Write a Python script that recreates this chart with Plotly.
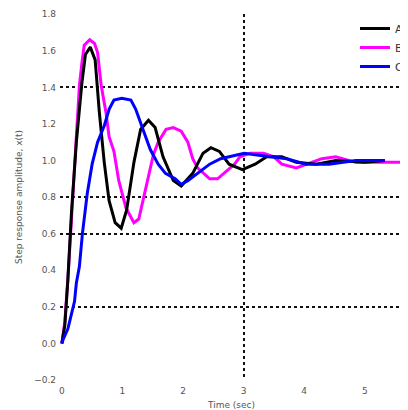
import plotly.graph_objects as go

# ---- data ----
names = ["A", "B", "C"]

t_black = [0, 0.05, 0.10, 0.16, 0.24, 0.33, 0.39, 0.47, 0.55, 0.62, 0.70, 0.78, 0.88, 0.98,
           1.07, 1.19, 1.30, 1.43, 1.54, 1.67, 1.84, 1.97, 2.16, 2.33, 2.46, 2.60, 2.76, 2.98,
           3.19, 3.38, 3.63, 3.87, 4.20, 4.52, 5.00, 5.33]
y_black = [0, 0.10, 0.35, 0.72, 1.10, 1.42, 1.58, 1.62, 1.55, 1.26, 0.99, 0.78, 0.66, 0.63,
           0.73, 0.99, 1.17, 1.22, 1.18, 1.02, 0.89, 0.86, 0.93, 1.04, 1.07, 1.05, 0.98, 0.95,
           0.98, 1.02, 1.02, 0.99, 0.98, 1.00, 0.99, 1.00]

t_magenta = [0, 0.05, 0.10, 0.16, 0.24, 0.29, 0.33, 0.37, 0.46, 0.54, 0.59, 0.65, 0.73, 0.78,
             0.86, 0.94, 1.06, 1.19, 1.27, 1.35, 1.43, 1.51, 1.59, 1.72, 1.84, 1.97, 2.08,
             2.16, 2.24, 2.44, 2.57, 2.68, 2.85, 2.94, 3.11, 3.33, 3.50, 3.63, 3.87, 4.29,
             4.52, 4.85, 5.70]
y_magenta = [0, 0.12, 0.35, 0.70, 1.10, 1.41, 1.53, 1.63, 1.66, 1.64, 1.59, 1.41, 1.26, 1.13,
             1.05, 0.89, 0.74, 0.66, 0.68, 0.80, 0.92, 1.03, 1.10, 1.17, 1.18, 1.16, 1.10,
             1.01, 0.96, 0.90, 0.90, 0.93, 0.98, 1.02, 1.04, 1.04, 1.02, 0.98, 0.96, 1.01,
             1.02, 0.99, 0.99]

t_blue = [0, 0.02, 0.10, 0.21, 0.24, 0.29, 0.34, 0.42, 0.50, 0.59, 0.70, 0.78, 0.86, 0.99,
          1.14, 1.22, 1.35, 1.46, 1.59, 1.71, 1.87, 1.97, 2.08, 2.24, 2.44, 2.62, 2.85, 3.01,
          3.22, 3.50, 3.71, 4.03, 4.41, 4.85, 5.33]
y_blue = [0, 0.02, 0.08, 0.23, 0.33, 0.42, 0.60, 0.82, 0.98, 1.10, 1.19, 1.28, 1.33, 1.34,
          1.33, 1.28, 1.16, 1.06, 0.98, 0.93, 0.90, 0.87, 0.89, 0.93, 0.98, 1.01, 1.03, 1.04,
          1.03, 1.02, 1.01, 0.98, 0.98, 1.00, 1.00]

x_range = [-0.03, 5.63]
y_range = [-0.2, 1.801]
x_grid = [3]
y_grid = [0.2, 0.6, 0.8, 1.4]

fig = go.Figure()
line_w = 3
fig.add_trace(go.Scatter(x=t_magenta, y=y_magenta, mode="lines", name=names[1],
                         line=dict(color="#ff00ff", width=line_w), legendrank=2))
fig.add_trace(go.Scatter(x=t_black, y=y_black, mode="lines", name=names[0],
                         line=dict(color="#000000", width=line_w), legendrank=1))
fig.add_trace(go.Scatter(x=t_blue, y=y_blue, mode="lines", name=names[2],
                         line=dict(color="#0000ff", width=line_w), legendrank=3))

tick_font = dict(family="DejaVu Sans", size=9, color="#555")

fig.update_layout(
    width=400, height=402,
    margin=dict(l=52, r=0, t=6, b=30),
    paper_bgcolor="white", plot_bgcolor="white",
    showlegend=True,
    legend=dict(x=0.86, y=1.0, xanchor="left", yanchor="top", tracegroupgap=0,
                bgcolor="rgba(0,0,0,0)", font=dict(family="DejaVu Sans", size=11, color="#333")),
    xaxis=dict(range=x_range, dtick=1, showgrid=False, zeroline=False, showline=False,
               tickfont=tick_font, ticks="", ticklabelstandoff=4,
               title=dict(text="Time (sec)", font=dict(family="DejaVu Sans", size=9, color="#555"),
                          standoff=8),
               automargin=False),
    yaxis=dict(range=y_range, dtick=0.2, showgrid=False, zeroline=False, showline=False,
               tickfont=tick_font, ticks="", tickformat=".1f", ticklabelstandoff=3,
               ticklabeloverflow="allow",
               title=dict(text="Step response amplitude, x(t)",
                          font=dict(family="DejaVu Sans", size=9, color="#555"), standoff=9),
               automargin=False),
    xaxis2=dict(range=x_range, overlaying="x", anchor="y", tickvals=x_grid, showticklabels=False,
                showgrid=True, griddash="dot", gridcolor="#111", gridwidth=2, zeroline=False,
                ticks=""),
    yaxis2=dict(range=y_range, overlaying="y", anchor="x", tickvals=y_grid, showticklabels=False,
                showgrid=True, griddash="dot", gridcolor="#111", gridwidth=1.5, zeroline=False,
                ticks=""),
)
# invisible trace to activate the overlay grid axes
fig.add_trace(go.Scatter(x=[x_range[0]], y=[y_range[0]], xaxis="x2", yaxis="y2", mode="markers",
                         marker=dict(opacity=0), showlegend=False, hoverinfo="skip"))

fig.write_html("out.html")
